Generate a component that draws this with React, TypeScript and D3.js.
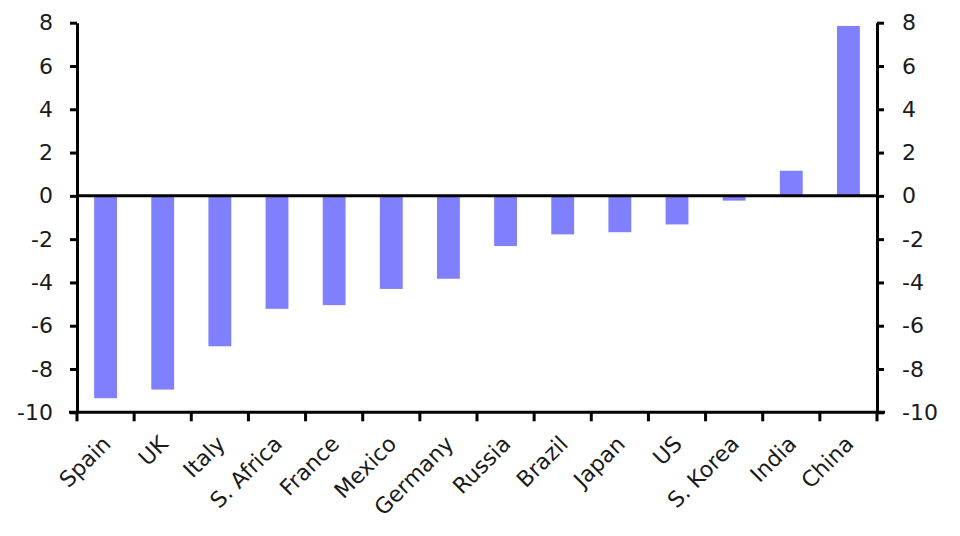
import { useEffect, useRef } from 'react'
import * as d3 from 'd3'

const countries = ['Spain', 'UK', 'Italy', 'S. Africa', 'France', 'Mexico', 'Germany', 'Russia', 'Brazil', 'Japan', 'US', 'S. Korea', 'India', 'China']
const values = [-9.35, -8.95, -6.95, -5.22, -5.05, -4.3, -3.83, -2.32, -1.78, -1.68, -1.32, -0.22, 1.16, 7.85]
const yTicks = [-10, -8, -6, -4, -2, 0, 2, 4, 6, 8]

const W = 960
const H = 536
const margin = { top: 22.7, right: 83, bottom: 123.7, left: 77 }
const font = '"DejaVu Sans", Verdana, sans-serif'
const fontSize = '22px'

const App = () => {
  const svgRef = useRef<SVGSVGElement | null>(null)

  useEffect(() => {
    if (!svgRef.current) return
    const width = W - margin.left - margin.right
    const height = H - margin.top - margin.bottom

    const svg = d3.select(svgRef.current)
    svg.selectAll('*').remove()
    const g = svg.append('g').attr('transform', `translate(${margin.left},${margin.top})`)

    const x = d3.scaleBand<string>().domain(countries).range([0, width]).paddingInner(0.6).paddingOuter(0.3)
    const y = d3.scaleLinear().domain([-10, 8]).range([height, 0])

    // bars
    g.selectAll('rect.bar')
      .data(countries)
      .enter()
      .append('rect')
      .attr('class', 'bar')
      .attr('x', d => x(d) as number)
      .attr('width', x.bandwidth())
      .attr('y', (_, i) => y(Math.max(0, values[i])))
      .attr('height', (_, i) => Math.abs(y(values[i]) - y(0)))
      .attr('fill', '#8080ff')

    // zero line
    g.append('line')
      .attr('x1', 0).attr('x2', width)
      .attr('y1', y(0)).attr('y2', y(0))
      .attr('stroke', '#000').attr('stroke-width', 3)

    const styleAxis = (sel: d3.Selection<SVGGElement, unknown, null, undefined>) => {
      sel.select('.domain').attr('stroke', '#000').attr('stroke-width', 3)
      sel.selectAll('.tick line').attr('stroke', '#000').attr('stroke-width', 3)
      sel.selectAll('.tick text').attr('fill', '#1a1a1a').style('font-family', font).style('font-size', fontSize)
    }
    const fmt = (d: d3.NumberValue) => String(d)

    // left axis
    g.append('g')
      .call(d3.axisLeft(y).tickValues(yTicks).tickFormat(fmt).tickSize(7).tickSizeOuter(0).tickPadding(17))
      .call(styleAxis)

    // right axis
    g.append('g')
      .attr('transform', `translate(${width},0)`)
      .call(d3.axisRight(y).tickValues(yTicks).tickFormat(fmt).tickSize(7).tickSizeOuter(0).tickPadding(18))
      .call(styleAxis)

    // bottom axis with ticks at category boundaries
    const bottom = g.append('g').attr('transform', `translate(0,${height})`)
    bottom.append('line')
      .attr('x1', -8).attr('x2', width + 8)
      .attr('stroke', '#000').attr('stroke-width', 3)
    const step = x.step()
    const bounds = d3.range(countries.length + 1).map(i => i * step)
    bottom.selectAll('line.tk')
      .data(bounds)
      .enter()
      .append('line')
      .attr('class', 'tk')
      .attr('x1', d => d).attr('x2', d => d)
      .attr('y1', 0).attr('y2', 9)
      .attr('stroke', '#000').attr('stroke-width', 3)

    bottom.selectAll('text.lbl')
      .data(countries)
      .enter()
      .append('text')
      .attr('class', 'lbl')
      .attr('transform', d => `translate(${(x(d) as number) + x.bandwidth() / 2 + 6.5},${33}) rotate(-45)`)
      .attr('text-anchor', 'end')
      .attr('fill', '#1a1a1a')
      .style('font-family', font)
      .style('font-size', fontSize)
      .text(d => d)
  }, [])

  return (
    <div style={{ position: 'absolute', left: 0, top: 0, width: W, height: H, background: '#fff' }}>
      <svg ref={svgRef} width={W} height={H} />
    </div>
  )
}

export default App
